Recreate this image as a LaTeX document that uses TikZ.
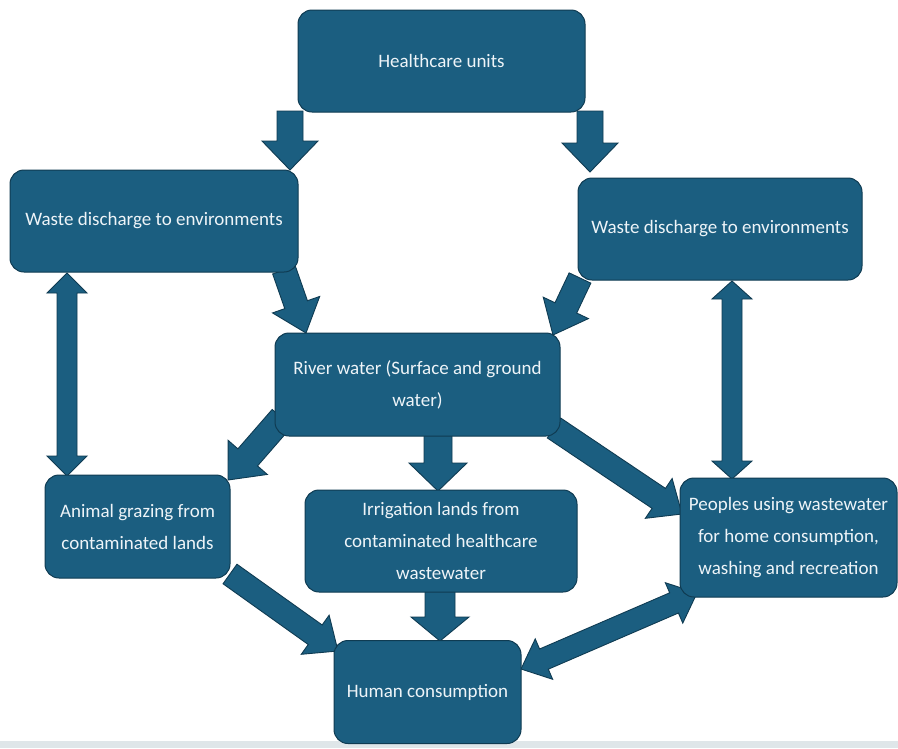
\documentclass[tikz,border=0pt]{standalone}
\usepackage{fontspec}
\setmainfont{Carlito}
\usetikzlibrary{calc}
\definecolor{boxfill}{HTML}{1B5E80}
\definecolor{boxline}{HTML}{0F3B52}
\definecolor{boxtext}{HTML}{EEF4F8}
\definecolor{bandgray}{HTML}{DFE6E9}
\tikzset{
  flowbox/.style={draw=boxline, fill=boxfill, line width=1pt, rounded corners=14pt,
    text=boxtext, align=center, font=\fontsize{19}{32}\selectfont, inner sep=4pt},
  blockarr/.style={draw=boxline, fill=boxfill, line width=0.9pt, line join=miter}
}
\newcommand\blkarrow[5]{%
  \coordinate (bah) at ($(#2)!#5!(#1)$);
  \filldraw[blockarr] ($(#1)!#3!90:(#2)$) -- ($(bah)!#3!-90:(#1)$) -- ($(bah)!#4!-90:(#1)$)
    -- (#2) -- ($(bah)!#4!90:(#1)$) -- ($(bah)!#3!90:(#1)$) -- ($(#1)!#3!-90:(#2)$) -- cycle;}
\newcommand\dblarrow[5]{%
  \coordinate (dah) at ($(#1)!#5!(#2)$);
  \coordinate (dbh) at ($(#2)!#5!(#1)$);
  \filldraw[blockarr] (#1) -- ($(dah)!#4!90:(#2)$) -- ($(dah)!#3!90:(#2)$)
    -- ($(dbh)!#3!-90:(#1)$) -- ($(dbh)!#4!-90:(#1)$) -- (#2)
    -- ($(dbh)!#4!90:(#1)$) -- ($(dbh)!#3!90:(#1)$)
    -- ($(dah)!#3!-90:(#2)$) -- ($(dah)!#4!-90:(#2)$) -- cycle;}
\begin{document}
\begin{tikzpicture}[x=1pt,y=-1pt]
\useasboundingbox (0,0) rectangle (898,748);
\fill[white] (0,0) rectangle (898,748);
\fill[bandgray] (0,741) rectangle (898,748);

% connector end points
\coordinate (c1s) at (290,111); \coordinate (c1e) at (290,170);
\coordinate (c2s) at (590,111); \coordinate (c2e) at (590,172);
\coordinate (c3s) at (284,270); \coordinate (c3e) at (306,333);
\coordinate (c4s) at (580,278); \coordinate (c4e) at (553,335);
\coordinate (c5s) at (67,273);  \coordinate (c5e) at (67,476);
\coordinate (c6s) at (732,281); \coordinate (c6e) at (732,479);
\coordinate (c7s) at (282,418); \coordinate (c7e) at (228,480);
\coordinate (c8s) at (438,435); \coordinate (c8e) at (438,491);
\coordinate (c9s) at (554,428); \coordinate (c9e) at (682,514);
\coordinate (c10s) at (230,574); \coordinate (c10e) at (338,651);
\coordinate (c11s) at (440,591); \coordinate (c11e) at (440,641);
\coordinate (c12s) at (521,669); \coordinate (c12e) at (697,593);

\blkarrow{c1s}{c1e}{13pt}{28pt}{29pt}
\blkarrow{c2s}{c2e}{13pt}{28pt}{29pt}
\blkarrow{c3s}{c3e}{12pt}{25pt}{30pt}
\blkarrow{c4s}{c4e}{12pt}{25pt}{30pt}
\dblarrow{c5s}{c5e}{10pt}{20pt}{20pt}
\dblarrow{c6s}{c6e}{10pt}{20pt}{18pt}
\blkarrow{c7s}{c7e}{13pt}{26pt}{30pt}
\blkarrow{c8s}{c8e}{14pt}{29pt}{28pt}
\blkarrow{c9s}{c9e}{12pt}{24pt}{28pt}
\blkarrow{c10s}{c10e}{12pt}{24pt}{28pt}
\blkarrow{c11s}{c11e}{15pt}{29pt}{24pt}
\dblarrow{c12s}{c12e}{11pt}{22pt}{25pt}

% boxes
\node[flowbox, minimum width=287pt, minimum height=102pt] (hc) at (441.5,61) {Healthcare units};
\node[flowbox, minimum width=288pt, minimum height=102pt] (wl) at (154,221) {Waste discharge to environments};
\node[flowbox, minimum width=284pt, minimum height=102pt] (wr) at (720,229) {Waste discharge to environments};
\node[flowbox, minimum width=285pt, minimum height=103pt] (rv) at (417.5,384.5) {River water (Surface and ground\\water)};
\node[flowbox, minimum width=185pt, minimum height=103pt] (an) at (137.5,526.5) {Animal grazing from\\contaminated lands};
\node[flowbox, minimum width=272pt, minimum height=102pt] (ir) at (441,541) {Irrigation lands from\\contaminated healthcare\\wastewater};
\node[flowbox, minimum width=217pt, minimum height=119pt] (pe) at (788.5,537.5) {Peoples using wastewater\\for home consumption,\\washing and recreation};
\node[flowbox, minimum width=187pt, minimum height=103pt] (hu) at (427.5,692) {Human consumption};
\end{tikzpicture}
\end{document}
